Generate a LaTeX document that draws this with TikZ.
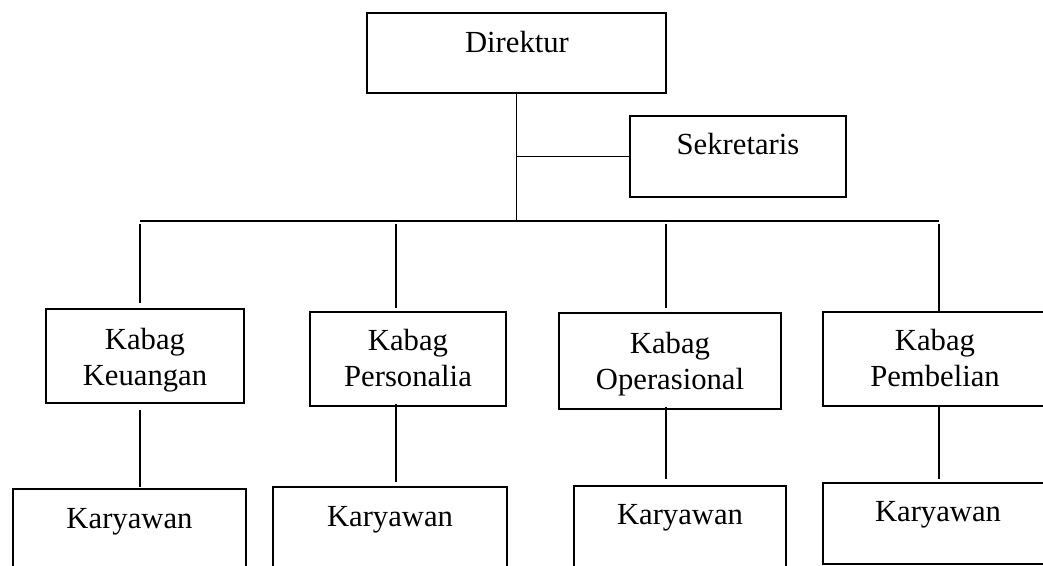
\documentclass[tikz,border=0pt]{standalone}
\usepackage{fontspec}
\setmainfont{Liberation Serif}
\usetikzlibrary{fit}

\tikzset{
  box/.style={draw, line width=1.1pt, inner sep=0pt},
  lbl/.style={font=\fontsize{23}{27.5}\selectfont, align=center, inner sep=0pt, anchor=base},
  link/.style={line width=1.1pt}
}

\begin{document}
\begin{tikzpicture}[x=0.75pt, y=-0.75pt]
\useasboundingbox (0,0) rectangle (1043,566);
\clip (0,0) rectangle (1043,566);

% boxes
\node[box, fit={(367,13) (666,93)}] (dir) {};
\node[box, fit={(630,116) (846,197)}] (sek) {};
\node[box, fit={(46,309) (244,403)}] (keu) {};
\node[box, fit={(310,312) (506,406)}] (per) {};
\node[box, fit={(559,313) (781,409)}] (ops) {};
\node[box, fit={(823,312) (1050,406)}] (pem) {};
\node[box, fit={(13,489) (246,580)}] (kar1) {};
\node[box, fit={(273,487) (507,580)}] (kar2) {};
\node[box, fit={(574,486) (786,580)}] (kar3) {};
\node[box, fit={(823,483) (1055,564)}] (kar4) {};

% texts (base = last line)
\node[lbl] (tdir) at (517,53) {Direktur};
\node[lbl] (tsek) at (738,155) {Sekretaris};
\node[lbl] (tkeu) at (145,386) {Kabag\\Keuangan};
\node[lbl] (tper) at (408,387) {Kabag\\Personalia};
\node[lbl] (tops) at (670,390) {Kabag\\Operasional};
\node[lbl] (tpem) at (935,387) {Kabag\\Pembelian};
\node[lbl] (tkar1) at (129.5,528) {Karyawan};
\node[lbl] (tkar2) at (390,527) {Karyawan};
\node[lbl] (tkar3) at (680,525) {Karyawan};
\node[lbl] (tkar4) at (938,522) {Karyawan};

% bus
\coordinate (b1) at (140,221);
\coordinate (b2) at (396,221);
\coordinate (b3) at (666,221);
\coordinate (b4) at (939,221);
\draw[link] (b1) -- (b4);
\draw[link] (dir.south) -- (dir.south |- b1);
\draw[link] (dir.south |- sek.west) -- (sek.west);

% down to the kabag boxes
\draw[link, shorten <=2pt, shorten >=3.75pt] (b1) -- (b1 |- keu.north);
\draw[link, shorten <=2pt, shorten >=2.25pt] (b2) -- (b2 |- per.north);
\draw[link, shorten <=2pt, shorten >=3pt] (b3) -- (b3 |- ops.north);
\draw[link, shorten <=2pt] (b4) -- (b4 |- pem.north);

% kabag to karyawan
\draw[link, shorten <=4.5pt, shorten >=0.75pt] (b1 |- keu.south) -- (b1 |- kar1.north);
\draw[link, shorten <=-2.25pt, shorten >=3pt] (b2 |- per.south) -- (b2 |- kar2.north);
\draw[link, shorten <=-2.25pt, shorten >=4.5pt] (b3 |- ops.south) -- (b3 |- kar3.north);
\draw[link, shorten >=2.25pt] (b4 |- pem.south) -- (b4 |- kar4.north);
\end{tikzpicture}
\end{document}
